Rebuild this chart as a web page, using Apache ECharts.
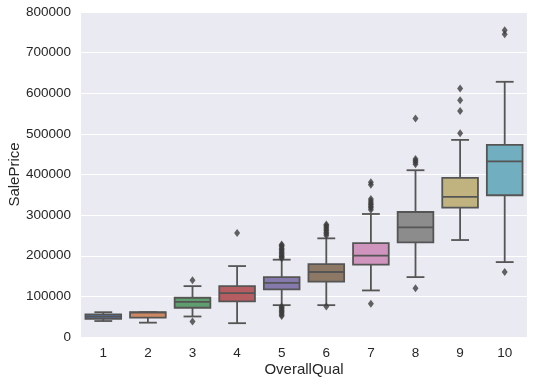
<!DOCTYPE html>
<html>
<head>
<meta charset="utf-8">
<script src="https://cdn.jsdelivr.net/npm/echarts@6/dist/echarts.min.js"></script>
<style>
html,body{margin:0;padding:0;background:#fff;}
#chart{width:534px;height:384px;}
</style>
</head>
<body>
<div id="chart"></div>
<script>
var categories = ['1','2','3','4','5','6','7','8','9','10'];
var whiskerLow  = [39300, 35311, 50500, 34000, 78400, 78400, 114600, 147400, 238700, 184400];
var q1          = [44725, 47655, 72000, 87500, 117100, 136100, 178000, 233000, 318500, 348900];
var median      = [50150, 60000, 86250, 108000, 133000, 160000, 200141, 269750, 345000, 432390];
var q3          = [55575, 61000, 96600, 125200, 147400, 179500, 231300, 307700, 391500, 472900];
var whiskerHigh = [61000, 61000, 125200, 174600, 190300, 242800, 302800, 410500, 485200, 628200];
var outliers = [
  [],
  [],
  [139600, 37900],
  [256000],
  [194000, 197000, 199000, 202000, 205000, 208000, 212000, 215000, 218000, 222000, 225000, 228000, 75000, 72000, 69000, 65000, 62000, 59000, 55000, 52000],
  [250000, 254000, 258000, 262000, 266000, 270000, 274000, 277000, 75000],
  [313000, 318000, 322000, 326000, 330000, 335000, 340000, 375000, 381000, 82000],
  [425000, 430000, 434000, 438000, 538000, 120300],
  [501837, 556581, 582933, 611657],
  [745000, 755000, 160000]
];
var boxColors = ['#5975a4','#cc8963','#5f9e6e','#b55d60','#857aab','#8d7866','#d095bf','#8c8c8c','#c1b37f','#71aec0'];
var yTicks = {min: 0, max: 800000, interval: 100000};

var lineColor = '#555555';
var boxData = categories.map(function(c, i){
  return [i, whiskerLow[i], q1[i], median[i], q3[i], whiskerHigh[i]];
});
var outlierData = [];
outliers.forEach(function(arr, i){ arr.forEach(function(v){ outlierData.push([i, v]); }); });

var chart = echarts.init(document.getElementById('chart'));
chart.setOption({
  animation: false,
  textStyle: {fontFamily: 'Liberation Sans, Arial, sans-serif'},
  grid: {left: 81, right: 7, top: 12, bottom: 47, show: true, backgroundColor: '#EAEAF2', borderWidth: 0,
         containLabel: false, outerBoundsMode: 'none'},
  xAxis: {
    type: 'category', data: categories, boundaryGap: true,
    axisLine: {show: false}, axisTick: {show: false}, splitLine: {show: false},
    axisLabel: {color: '#262626', fontSize: 13.5, margin: 9},
    name: 'OverallQual', nameLocation: 'middle', nameGap: 25, nameMoveOverlap: false,
    nameTextStyle: {color: '#262626', fontSize: 15}
  },
  yAxis: {
    type: 'value', min: yTicks.min, max: yTicks.max, interval: yTicks.interval,
    axisLine: {show: false}, axisTick: {show: false},
    splitLine: {show: true, lineStyle: {color: '#ffffff', width: 1}},
    axisLabel: {color: '#262626', fontSize: 13.5, margin: 10, formatter: function(v){ return String(v); }},
    name: 'SalePrice', nameLocation: 'middle', nameGap: 59, nameMoveOverlap: false,
    nameTextStyle: {color: '#262626', fontSize: 15}
  },
  series: [
    {
      type: 'custom',
      data: boxData,
      encode: {x: 0, y: [1,2,3,4,5]},
      renderItem: function(params, api){
        var idx = api.value(0);
        var pLow = api.coord([idx, api.value(1)]);
        var pQ1 = api.coord([idx, api.value(2)]);
        var pMed = api.coord([idx, api.value(3)]);
        var pQ3 = api.coord([idx, api.value(4)]);
        var pHigh = api.coord([idx, api.value(5)]);
        var band = api.size([1, 0])[0];
        var bw = band * 0.8, cw = bw * 0.5;
        var cx = pMed[0];
        var ls = {stroke: lineColor, lineWidth: 1.8};
        return {
          type: 'group',
          children: [
            {type: 'line', shape: {x1: cx, y1: pQ3[1], x2: cx, y2: pHigh[1]}, style: ls},
            {type: 'line', shape: {x1: cx, y1: pQ1[1], x2: cx, y2: pLow[1]}, style: ls},
            {type: 'line', shape: {x1: cx - cw/2, y1: pHigh[1], x2: cx + cw/2, y2: pHigh[1]}, style: ls},
            {type: 'line', shape: {x1: cx - cw/2, y1: pLow[1], x2: cx + cw/2, y2: pLow[1]}, style: ls},
            {type: 'rect', shape: {x: cx - bw/2, y: pQ3[1], width: bw, height: pQ1[1] - pQ3[1]},
              style: {fill: boxColors[idx], stroke: lineColor, lineWidth: 1.8}},
            {type: 'line', shape: {x1: cx - bw/2, y1: pMed[1], x2: cx + bw/2, y2: pMed[1]}, style: ls}
          ]
        };
      }
    },
    {
      type: 'scatter',
      data: outlierData,
      symbol: 'diamond',
      symbolSize: [6, 8],
      itemStyle: {color: '#3d3d3d'},
      z: 3
    }
  ]
});
</script>
</body>
</html>
